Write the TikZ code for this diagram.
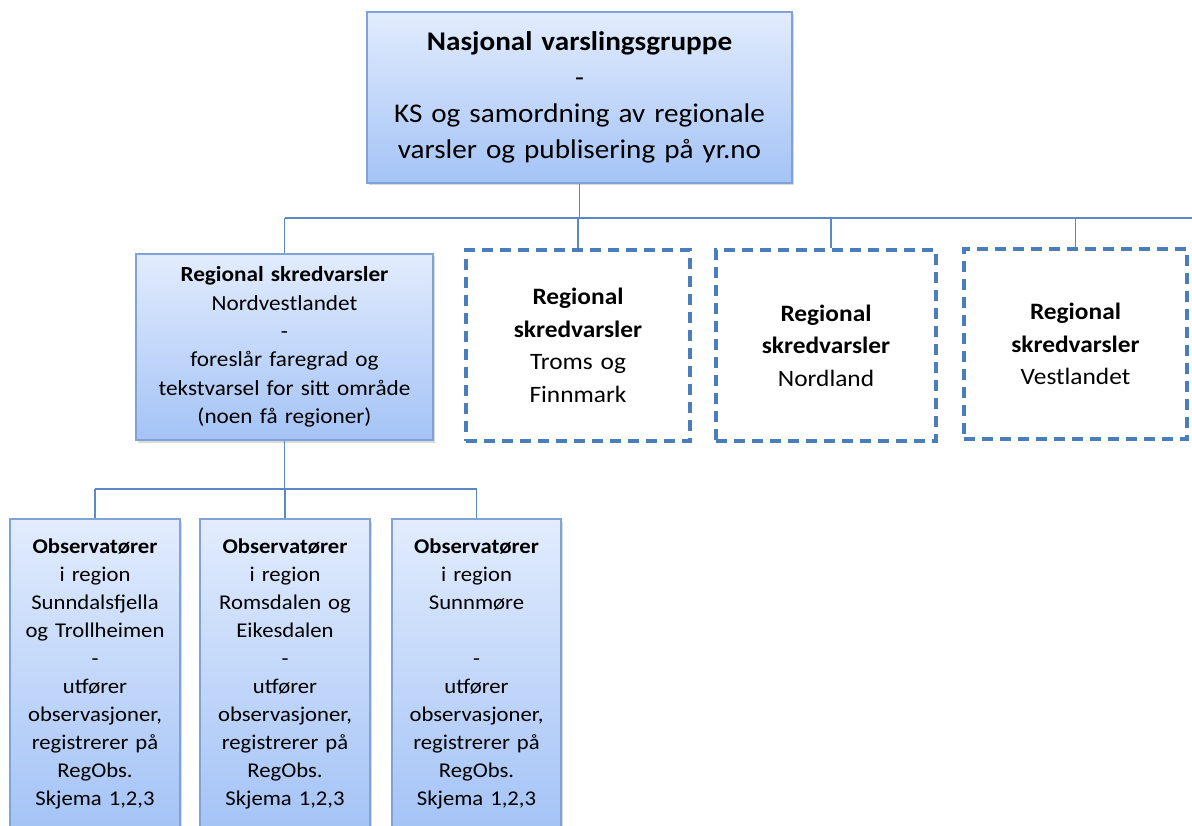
\documentclass[tikz,border=0pt]{standalone}
\usepackage{fontspec}
\setmainfont{Carlito}[FakeStretch=1.08]
\usetikzlibrary{shadows}
\definecolor{boxtop}{HTML}{E2ECFD}
\definecolor{boxbot}{HTML}{A4C3F6}
\definecolor{boxline}{HTML}{7FA3D6}
\definecolor{linkblue}{HTML}{5A8AC6}
\definecolor{dashblue}{HTML}{4A7EBB}
\tikzset{
fillbox/.style={draw=boxline,line width=1.2pt,top color=boxtop,bottom color=boxbot,align=center,inner sep=0pt,
 drop shadow={shadow xshift=2pt,shadow yshift=-2.5pt,opacity=0.3}},
dashbox/.style={draw=dashblue,line width=3.5pt,dash pattern=on 11pt off 7pt,align=center,inner sep=0pt,
 font=\fontsize{23.5}{32.5}\selectfont},
link/.style={draw=linkblue,line width=1.2pt},
mid/.style={font=\fontsize{21.5}{28.4}\selectfont},
low/.style={font=\fontsize{21}{28}\selectfont},
}
\begin{document}
\begin{tikzpicture}[x=1pt,y=1pt]
\useasboundingbox (0,0) rectangle (1192,-826);
\clip (0,0) rectangle (1192,-826);
\coordinate (bus) at (0,-218); \coordinate (busend) at (1192,-218);
\coordinate (subbus) at (0,-489);
\node[fillbox,minimum width=425pt,minimum height=171pt,text width=415pt,font=\fontsize{27}{36}\selectfont] (nasjonal) at (579.5,-97.5)
 {\textbf{Nasjonal varslingsgruppe}\\-\\KS og samordning av regionale\\varsler og publisering på yr.no};
\node[fillbox,mid,minimum width=297pt,minimum height=186pt,text width=290pt] (nordvest) at (284.5,-347)
 {\textbf{Regional skredvarsler}\\Nordvestlandet\\-\\foreslår faregrad og\\tekstvarsel for sitt område\\(noen få regioner)};
%\node[fillbox] at (0,0) {};
\node[dashbox,minimum width=224pt,minimum height=191pt,text width=215pt] (troms) at (578,-345.5)
 {\textbf{Regional}\\\textbf{skredvarsler}\\Troms og\\Finnmark};
\node[dashbox,minimum width=220pt,minimum height=191pt,text width=210pt] (nordland) at (826,-345.5)
 {\textbf{Regional}\\\textbf{skredvarsler}\\Nordland};
\node[dashbox,minimum width=223pt,minimum height=190pt,text width=215pt] (vestland) at (1075.5,-344)
 {\textbf{Regional}\\\textbf{skredvarsler}\\Vestlandet};
\node[fillbox,low,minimum width=170pt,minimum height=310pt,text width=165pt] (obs1) at (95,-674)
 {\textbf{Observatører}\\i region\\Sunndalsfjella\\og Trollheimen\\-\\utfører\\observasjoner,\\registrerer på\\RegObs.\\Skjema 1,2,3};
\node[fillbox,low,minimum width=170pt,minimum height=310pt,text width=165pt] (obs2) at (285,-674)
 {\textbf{Observatører}\\i region\\Romsdalen og\\Eikesdalen\\-\\utfører\\observasjoner,\\registrerer på\\RegObs.\\Skjema 1,2,3};
\node[fillbox,low,minimum width=169pt,minimum height=310pt,text width=165pt] (obs3) at (476.5,-674)
 {\textbf{Observatører}\\i region\\Sunnmøre\\~\\-\\utfører\\observasjoner,\\registrerer på\\RegObs.\\Skjema 1,2,3};
\draw[link] (nasjonal.south) -- (nasjonal.south |- bus); \draw[link] (nordvest.north |- bus) -- (busend);
\draw[link] (nordvest.north) -- (nordvest.north |- bus); \draw[link] (troms.north) -- (troms.north |- bus);
\draw[link] ([xshift=5pt]nordland.north) -- ([xshift=5pt]nordland.north |- bus); \draw[link] (vestland.north) -- (vestland.north |- bus);
\draw[link] (nordvest.south) -- (nordvest.south |- subbus); \draw[link] (obs1.north |- subbus) -- (obs3.north |- subbus);
\draw[link] (obs1.north) -- (obs1.north |- subbus); \draw[link] (obs2.north) -- (obs2.north |- subbus);
\draw[link] (obs3.north) -- (obs3.north |- subbus);
\end{tikzpicture}
\end{document}
